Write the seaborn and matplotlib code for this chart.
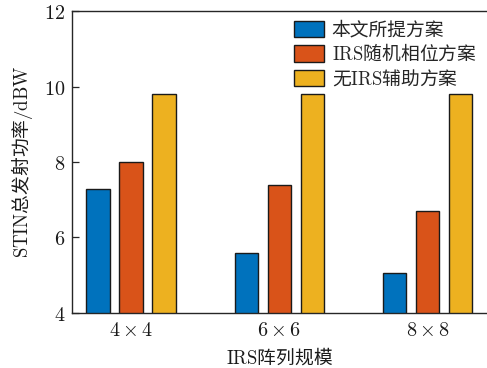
import matplotlib
matplotlib.use("Agg")
import matplotlib.pyplot as plt
import seaborn as sns
import pandas as pd

# Array sizes (x groups) and schemes (hue)
sizes = [r"$4\times4$", r"$6\times6$", r"$8\times8$"]
schemes = ["本文所提方案", r"$\mathrm{IRS}$随机相位方案", r"无$\mathrm{IRS}$辅助方案"]

# Total transmit power of STIN (dBW) per scheme
proposed = [7.28, 5.58, 5.05]
random_phase = [8.01, 7.38, 6.71]
no_irs = [9.80, 9.80, 9.80]

colors = ["#0072BD", "#D95319", "#EDB120"]

rows = []
for scheme, vals in zip(schemes, [proposed, random_phase, no_irs]):
    for s, v in zip(sizes, vals):
        rows.append({"size": s, "scheme": scheme, "power": v})
df = pd.DataFrame(rows)

sns.set_theme(style="ticks")
plt.rcParams["font.family"] = ["Noto Sans CJK SC", "DejaVu Serif"]
plt.rcParams["mathtext.fontset"] = "cm"
plt.rcParams["axes.unicode_minus"] = False

fig = plt.figure(figsize=(4.87, 3.68), dpi=100)
ax = fig.add_axes([0.148, 0.1495, 0.852, 0.8205])

sns.barplot(data=df, x="size", y="power", hue="scheme", hue_order=schemes,
            order=sizes, palette=colors, width=0.667, gap=0.29,
            edgecolor="#1a1a1a", linewidth=1.0, saturation=1.0, ax=ax,
            errorbar=None)

ax.set_ylim(4, 12)
ax.set_xlim(-0.397, 2.4)
ax.set_yticks([4, 6, 8, 10, 12])
ax.set_yticklabels([f"${v}$" for v in [4, 6, 8, 10, 12]], fontsize=14.5)
ax.set_xticks(range(len(sizes)))
ax.set_xticklabels(sizes, fontsize=14.5)
ax.tick_params(direction="in", length=5, width=0.9, colors="#262626",
               labelcolor="#1a1a1a", pad=5)
for side in ["left", "bottom", "top"]:
    ax.spines[side].set_linewidth(1.0)
    ax.spines[side].set_color("#262626")
ax.spines["right"].set_visible(False)

ax.set_xlabel(r"$\mathrm{IRS}$阵列规模", fontsize=13.5, color="#1a1a1a", labelpad=4)
ax.set_ylabel(r"$\mathrm{STIN}$总发射功率$/\mathrm{dBW}$", fontsize=13.5,
              color="#1a1a1a", labelpad=6)

handles, labels = ax.get_legend_handles_labels()
ax.legend(handles, labels, loc="upper left", bbox_to_anchor=(0.604, 0.948),
          bbox_transform=fig.transFigure, frameon=False, fontsize=13.5,
          handlelength=1.6, handleheight=0.95, handletextpad=0.4,
          labelspacing=0.18, borderpad=0, borderaxespad=0)

fig.savefig("out.png", dpi=100)
